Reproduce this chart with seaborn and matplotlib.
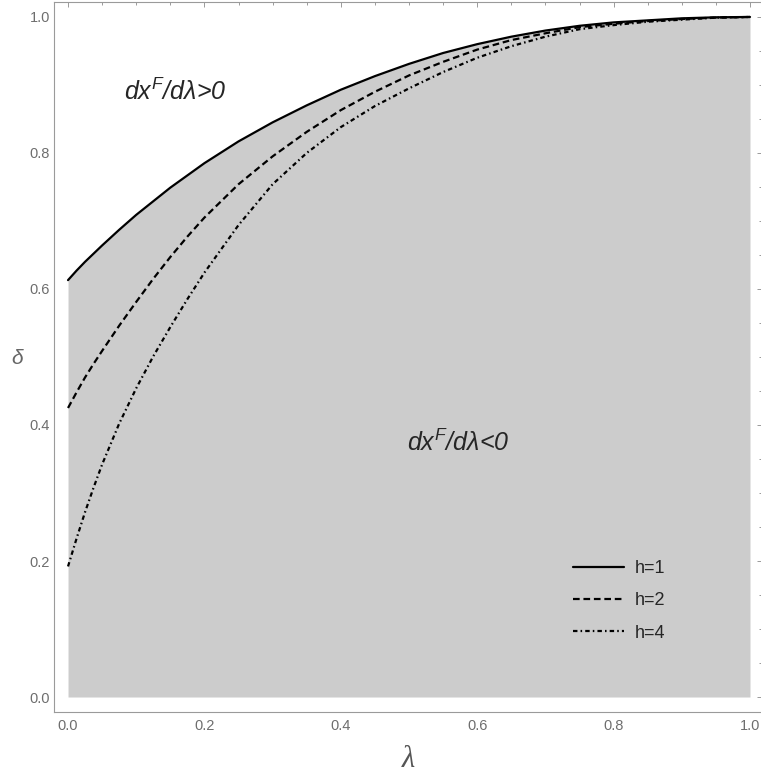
import numpy as np
import pandas as pd
import seaborn as sns
import matplotlib
matplotlib.use("Agg")
import matplotlib.pyplot as plt
from matplotlib.ticker import MultipleLocator, FormatStrFormatter

# Data
lam = [0.0, 0.0125, 0.025, 0.0375, 0.05, 0.075, 0.1, 0.125, 0.15, 0.175, 0.2,
       0.25, 0.3, 0.35, 0.4, 0.45, 0.5, 0.55, 0.6, 0.65, 0.7, 0.75, 0.8, 0.85,
       0.9, 0.95, 1.0]
delta_h1 = [0.613, 0.627, 0.640, 0.652, 0.664, 0.687, 0.709, 0.729, 0.749, 0.767, 0.785,
            0.817, 0.845, 0.870, 0.893, 0.913, 0.931, 0.947, 0.960, 0.971, 0.980, 0.987,
            0.992, 0.995, 0.998, 0.9995, 1.0]
delta_h2 = [0.425, 0.448, 0.470, 0.490, 0.509, 0.546, 0.581, 0.615, 0.647, 0.677, 0.705,
            0.754, 0.795, 0.831, 0.863, 0.890, 0.914, 0.934, 0.952, 0.966, 0.976, 0.985,
            0.990, 0.994, 0.997, 0.999, 1.0]
delta_h4 = [0.192, 0.233, 0.272, 0.308, 0.342, 0.402, 0.454, 0.501, 0.544, 0.585, 0.624,
            0.694, 0.754, 0.800, 0.838, 0.869, 0.895, 0.919, 0.940, 0.957, 0.971, 0.982,
            0.988, 0.993, 0.996, 0.999, 1.0]
series_labels = ["h=1", "h=2", "h=4"]
tick_values = [0.0, 0.2, 0.4, 0.6, 0.8, 1.0]

df = pd.DataFrame({"lam": lam, "h1": delta_h1, "h2": delta_h2, "h4": delta_h4})

sns.set_style("white")
plt.rcParams["font.family"] = ["Liberation Sans", "DejaVu Sans"]
plt.rcParams["mathtext.fontset"] = "custom"
plt.rcParams["mathtext.it"] = "Liberation Sans:italic"
plt.rcParams["mathtext.rm"] = "Liberation Sans:italic"

W, H = 761, 774
fig = plt.figure(figsize=(W / 100, H / 100), dpi=100)
left, right, bottom, top = 53.7, 762.5, 711.7, 2.0
ax = fig.add_axes([left / W, (H - bottom) / H, (right - left) / W, (bottom - top) / H])

# shaded region under h=1 curve
ax.fill_between(df["lam"], 0, df["h1"], color="#cccccc", lw=0, zorder=1)

lw = 1.6
styles = ["-", (0, (3.0, 1.7)), (0, (2.0, 1.4, 0.7, 1.4))]
for col, lab, ls in zip(["h1", "h2", "h4"], series_labels, styles):
    sns.lineplot(data=df, x="lam", y=col, ax=ax, color="black", linewidth=lw,
                 linestyle=ls, label=lab, zorder=3)

ax.set_xlim(-0.021, (right - 68) / 682)
ax.set_ylim(-0.0216, 1.022)

frame_col = "#9a9a9a"
for sp in ax.spines.values():
    sp.set_color(frame_col)
    sp.set_linewidth(0.8)

ax.xaxis.set_minor_locator(MultipleLocator(0.05))
ax.yaxis.set_minor_locator(MultipleLocator(0.05))
ax.set_xticks(tick_values)
ax.set_yticks(tick_values)
ax.xaxis.set_major_formatter(FormatStrFormatter("%.1f"))
ax.yaxis.set_major_formatter(FormatStrFormatter("%.1f"))
ax.tick_params(which="both", direction="in", top=True, right=True,
               color=frame_col, width=0.7, labelcolor="#6e6e6e", labelsize=10.5)
ax.tick_params(which="major", length=3.8)
ax.tick_params(which="minor", length=2.2)
ax.tick_params(axis="x", which="major", pad=5.0)
ax.tick_params(axis="y", which="major", pad=2.5)

ax.set_xlabel("λ", fontsize=22, family="Liberation Serif", style="italic",
              color="#555555", labelpad=9)
ax.set_ylabel("δ", fontsize=15, style="italic", color="#666666", rotation=0,
              ha="center", va="center")
ax.yaxis.set_label_coords(-0.052, 0.498)

ax.text(0.157, 0.89, r"$dx^F/d\lambda$>0", fontsize=18, style="italic",
        ha="center", va="center")
ax.text(0.572, 0.374, r"$dx^F/d\lambda$<0", fontsize=18, style="italic",
        ha="center", va="center")

ax.legend(loc="upper left", bbox_to_anchor=(0.733, 0.214), frameon=False,
          fontsize=13, borderpad=0, borderaxespad=0, handlelength=2.8,
          handletextpad=0.6, labelspacing=0.85)

fig.savefig("out.png", dpi=100)
